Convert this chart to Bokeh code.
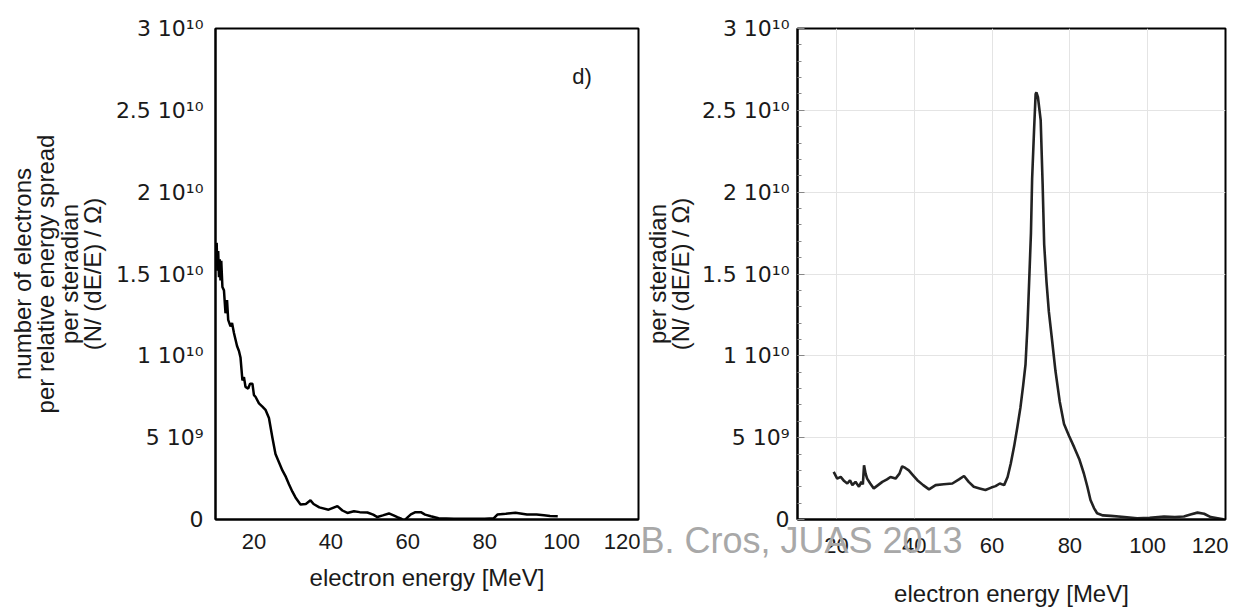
from bokeh.plotting import figure
from bokeh.layouts import row
from bokeh.models import Label, FixedTicker, SingleIntervalTicker, Range1d
from bokeh.embed import file_html
from bokeh.resources import INLINE

# ---------------- data (values in units of 1e9) ----------------
left_energy = [10.3, 10.5, 10.7, 10.9, 11.1, 11.3, 11.5, 11.8, 12.2, 12.6, 13.0, 13.3, 13.9, 14.3,
               14.8, 15.2, 15.6, 16.1, 16.5, 17.0, 17.4, 17.8, 18.5, 19.0, 19.6, 20.0, 20.4, 21.3,
               22.2, 23.0, 23.9, 24.8, 25.6, 26.5, 27.4, 28.3, 29.1, 30.0, 30.8, 32.1, 33.5, 34.7,
               35.5, 37.0, 39.4, 41.7, 43.0, 44.3, 46.0, 47.5, 49.5, 51.0, 52.1, 53.5, 55.1, 56.3,
               57.3, 58.3, 59.0, 59.8, 60.8, 62.0, 63.4, 64.5, 66.0, 68.0, 72.0, 76.0, 80.0, 82.4,
               83.3, 85.5, 88.0, 91.0, 93.5, 95.4, 97.0, 99.0]
left_counts = [16.9, 15.2, 16.4, 14.8, 15.9, 14.6, 15.8, 14.2, 14.0, 12.6, 13.4, 12.2, 11.8, 12.0,
               11.4, 11.0, 10.6, 10.3, 9.9, 8.5, 8.7, 8.1, 8.0, 8.3, 8.3, 7.6, 7.5, 7.1,
               6.9, 6.7, 6.2, 5.0, 4.0, 3.5, 3.0, 2.6, 2.15, 1.7, 1.35, 0.92, 0.95, 1.17,
               0.95, 0.74, 0.6, 0.82, 0.55, 0.4, 0.5, 0.45, 0.43, 0.3, 0.15, 0.25, 0.37, 0.25,
               0.14, 0.05, -0.12, 0.1, 0.31, 0.45, 0.45, 0.3, 0.2, 0.08, 0.05, 0.05, 0.05, 0.08,
               0.3, 0.35, 0.41, 0.3, 0.3, 0.26, 0.22, 0.2]

right_energy = [19.3, 20.2, 21.1, 22.0, 22.8, 23.5, 24.1, 24.9, 25.8, 26.4, 26.8, 27.1, 27.5, 27.9,
                28.7, 29.6, 30.7, 31.8, 33.0, 33.9, 35.2, 36.2, 36.9, 37.7, 38.6, 39.7, 40.8, 42.3,
                43.8, 45.5, 47.6, 49.8, 51.5, 52.8, 54.0, 55.3, 56.8, 58.3, 59.8, 60.9, 62.0, 63.1,
                64.0, 64.8, 65.7, 66.5, 67.3, 68.0, 68.6, 69.1, 69.5, 70.0, 70.3, 70.8, 71.2, 71.4,
                71.8, 72.2, 72.5, 73.0, 73.4, 74.0, 74.6, 75.5, 76.3, 77.4, 78.5, 79.8, 81.1, 82.4,
                83.6, 84.5, 85.3, 86.2, 87.0, 88.5, 90.5, 94.0, 97.3, 100.5, 104.2, 107.0, 109.3,
                111.0, 112.8, 114.5, 116.2, 118.0, 119.5]
right_counts = [2.91, 2.5, 2.6, 2.35, 2.2, 2.4, 2.1, 2.3, 2.0, 2.3, 2.15, 3.31, 2.8, 2.5,
                2.2, 1.9, 2.1, 2.3, 2.45, 2.6, 2.5, 2.8, 3.25, 3.15, 3.0, 2.7, 2.4, 2.1,
                1.84, 2.1, 2.15, 2.2, 2.45, 2.66, 2.3, 2.0, 1.9, 1.8, 1.95, 2.04, 2.2, 2.1,
                2.6, 3.41, 4.5, 5.64, 6.85, 8.2, 9.47, 11.8, 14.3, 17.5, 20.8, 23.8, 26.0, 26.1,
                25.8, 25.0, 24.4, 20.5, 16.8, 14.5, 12.7, 10.8, 9.07, 7.2, 5.84, 5.1, 4.42, 3.7,
                2.81, 2.0, 1.19, 0.7, 0.38, 0.25, 0.22, 0.15, 0.08, 0.1, 0.18, 0.15, 0.18,
                0.3, 0.42, 0.35, 0.15, 0.08, 0.02]

x_ticks = [20, 40, 60, 80, 100, 120]
x_tick_labels = ["20", "40", "60", "80", "100", "120"]
y_ticks = [0, 5, 10, 15, 20, 25, 30]
y_tick_labels = ["0", "5 10\u2079", "1 10\u00b9\u2070", "1.5 10\u00b9\u2070", "2 10\u00b9\u2070",
                 "2.5 10\u00b9\u2070", "3 10\u00b9\u2070"]
x_label = "electron energy [MeV]"
left_y_label = "number of electrons\nper relative energy spread\nper steradian\n(N/ (dE/E) / \u03a9)"
right_y_label = "per steradian\n(N/ (dE/E) / \u03a9)"
panel_tag = "d)"
watermark = "B. Cros, JUAS 2013"

FONT = "Liberation Sans"
TICKFONT_Y = "DejaVu Sans"
TXT = "#1a1a1a"


def style(p, ylabel, xtick_standoff, ytick_standoff, ylabel_standoff):
    p.outline_line_color = "black"
    p.outline_line_width = 2
    p.outline_line_alpha = 1
    p.background_fill_color = "white"
    p.border_fill_color = "white"
    for ax in (p.xaxis[0], p.yaxis[0]):
        ax.axis_line_color = "black"
        ax.axis_line_width = 2
        ax.major_label_text_color = TXT
        ax.axis_label_text_font = FONT
        ax.axis_label_text_font_size = "24px"
        ax.axis_label_text_font_style = "normal"
        ax.axis_label_text_color = TXT
        ax.axis_label_text_line_height = 0.86
        ax.major_tick_out = 0
        ax.minor_tick_out = 0
    p.xaxis.major_label_text_font = FONT
    p.xaxis.major_label_text_font_size = "22px"
    p.yaxis.major_label_text_font = TICKFONT_Y
    p.yaxis.major_label_text_font_size = "22px"
    p.xaxis.ticker = FixedTicker(ticks=x_ticks)
    p.xaxis.major_label_overrides = dict(zip(x_ticks, x_tick_labels))
    p.yaxis.major_label_overrides = dict(zip(y_ticks, y_tick_labels))
    p.yaxis.axis_label = ylabel
    p.xaxis.major_label_standoff = xtick_standoff
    p.yaxis.major_label_standoff = ytick_standoff
    p.yaxis.axis_label_standoff = ylabel_standoff


# ---------------- left panel ----------------
p1 = figure(width=640, height=608, x_range=Range1d(10, 120), y_range=Range1d(0, 30),
            output_backend="svg", toolbar_location=None,
            min_border_left=215, min_border_right=2, min_border_top=27, min_border_bottom=89)
style(p1, left_y_label, 14, 12, 7)
p1.xaxis.axis_label = x_label
p1.xaxis.axis_label_standoff = 12
p1.yaxis.ticker = FixedTicker(ticks=y_ticks)
p1.xaxis.major_tick_in = 0
p1.yaxis.major_tick_in = 0
p1.xaxis.minor_tick_in = 0
p1.yaxis.minor_tick_in = 0
p1.grid.visible = False
p1.line(left_energy, left_counts, line_color="black", line_width=2.5)
p1.add_layout(Label(x=105.3, y=27.05, text=panel_tag, text_font=FONT, text_font_size="22px",
                    text_color=TXT, text_align="center", text_baseline="middle"))

# ---------------- right panel ----------------
p2 = figure(width=588, height=608, x_range=Range1d(10, 120), y_range=Range1d(0, 30),
            output_backend="svg", toolbar_location=None,
            min_border_left=157, min_border_right=3, min_border_top=28, min_border_bottom=89)
style(p2, right_y_label, 18, 8, 5)
p2.yaxis.ticker = SingleIntervalTicker(interval=5, num_minor_ticks=5)
p2.yaxis.major_tick_in = 7
p2.yaxis.minor_tick_in = 4
p2.yaxis.major_tick_line_color = "#888888"
p2.yaxis.minor_tick_line_color = "#888888"
p2.xaxis.major_tick_in = 0
p2.xaxis.minor_tick_in = 0
p2.grid.grid_line_color = "#e4e4e4"
p2.grid.grid_line_width = 1
p2.line(right_energy, right_counts, line_color="#222222", line_width=2.6)

# Texts lying outside the frame are put in side panels (so they are not clipped to the frame);
# their data coordinates still place them through the frame's scales.
p2.add_layout(Label(x=65, y=-4.5, text=x_label, text_font=FONT, text_font_size="24px",
                    text_color=TXT, text_align="center", text_baseline="middle"), "above")
p2.add_layout(Label(x=-30.35, y=-1.28, text=watermark, text_font=FONT, text_font_size="36px",
                    text_color="#a8a8a8", text_align="left", text_baseline="alphabetic"), "below")

layout = row(p1, p2, spacing=0)
open("out.html", "w").write(file_html(layout, INLINE))
